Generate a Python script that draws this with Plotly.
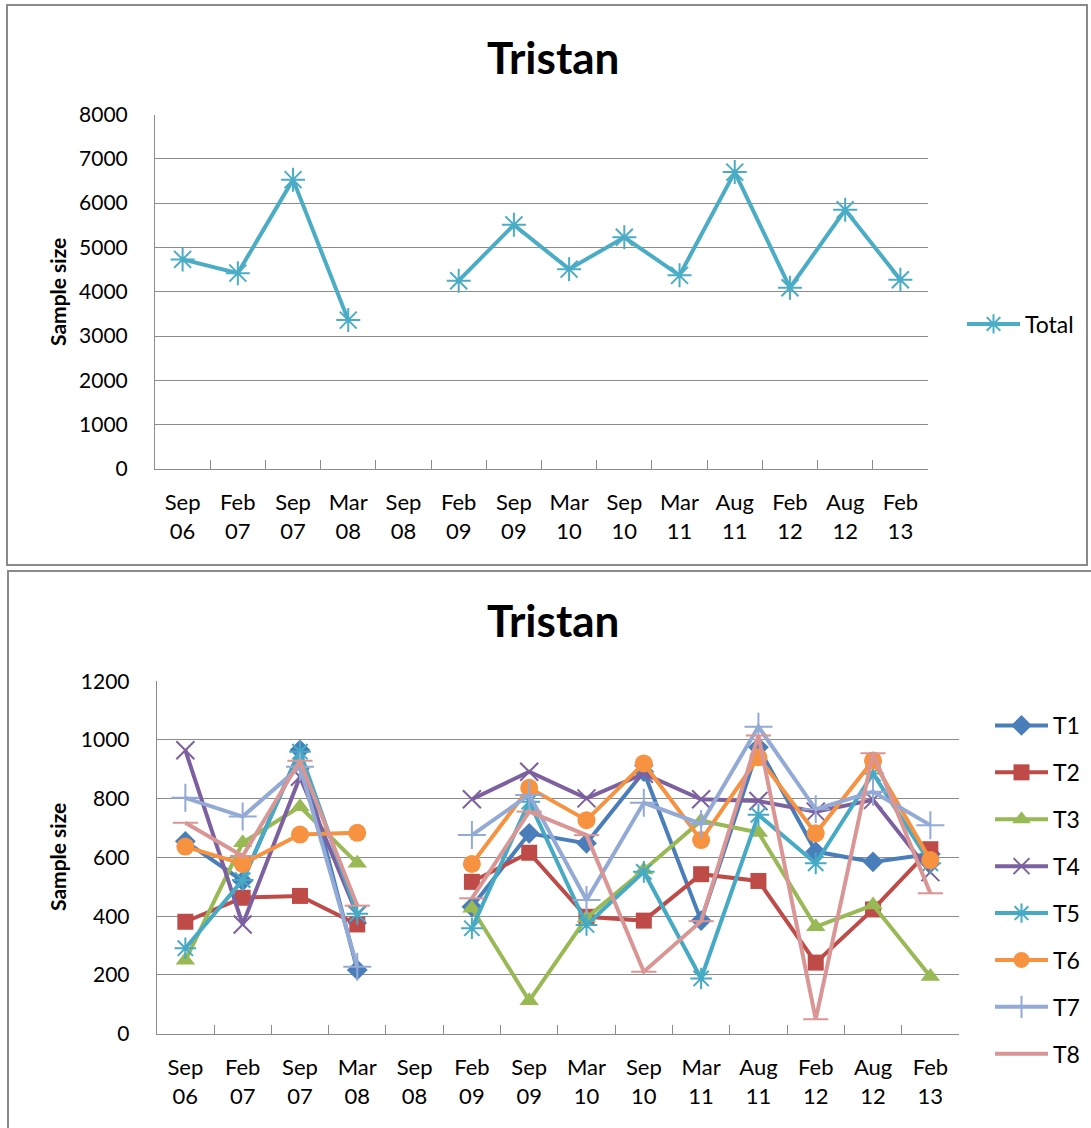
import plotly.graph_objects as go

# Sampling occasions (x categories)
categories = ["Sep 06", "Feb 07", "Sep 07", "Mar 08", "Sep 08", "Feb 09", "Sep 09",
              "Mar 10", "Sep 10", "Mar 11", "Aug 11", "Feb 12", "Aug 12", "Feb 13"]
tick_labels = [c.replace(" ", "<br>") for c in categories]

# Total sample size per occasion (no sampling in Sep 08)
total = [4730, 4420, 6530, 3360, None, 4250, 5510, 4510, 5230, 4370, 6700, 4090, 5850, 4270]

# Sample size per site T1..T8
t1 = [655, 520, 966, 217, None, 432, 682, 648, 892, 385, 975, 620, 585, 612]
t2 = [381, 463, 469, 372, None, 517, 616, 398, 385, 543, 520, 242, 423, 628]
t3 = [250, 650, 773, 580, None, 427, 112, 394, 557, 725, 685, 364, 438, 195]
t4 = [965, 372, 875, 405, None, 798, 892, 801, 885, 798, 792, 756, 796, 550]
t5 = [291, 523, 960, 408, None, 359, 790, 370, 551, 188, 745, 580, 886, 580]
t6 = [637, 578, 678, 684, None, 578, 837, 727, 920, 659, 941, 682, 930, 591]
t7 = [803, 739, 909, 228, None, 676, 813, 455, 786, 714, 1045, 764, 824, 710]
t8 = [718, 605, 929, 436, None, 461, 756, 676, 211, 383, 1015, 49, 955, 478]

site_names = ["T1", "T2", "T3", "T4", "T5", "T6", "T7", "T8"]
site_values = [t1, t2, t3, t4, t5, t6, t7, t8]
site_colors = ["#4A7EBB", "#BE4B48", "#98B954", "#7D60A0",
               "#46AAC5", "#F69240", "#93AAD6", "#DA9694"]
site_symbols = ["diamond", "square", "triangle-up", "x-thin-open",
                "asterisk-open", "circle", "cross-thin-open", "line-ew-open"]
site_sizes = [16, 16, 17, 18, 18, 18, 20, 18]

W, H = 1091, 1128
FONT = "Lato, 'Open Sans', sans-serif"
GRID = "#8C8C8C"


def px_x(v):
    return v / W


def px_y(v):
    return 1 - v / H


fig = go.Figure()

fig.add_trace(go.Scatter(
    x=categories, y=total, name="Total", mode="lines+markers",
    connectgaps=False, xaxis="x", yaxis="y", legend="legend",
    line=dict(color="#4BACC6", width=4),
    marker=dict(symbol="asterisk-open", size=20, color="#4BACC6",
                line=dict(color="#4BACC6", width=2)),
))

for name, vals, col, sym, sz in zip(site_names, site_values, site_colors,
                                    site_symbols, site_sizes):
    open_sym = sym.endswith("-open")
    fig.add_trace(go.Scatter(
        x=categories, y=vals, name=name, mode="lines+markers",
        connectgaps=False, xaxis="x2", yaxis="y2", legend="legend2",
        legendgroup=name,
        line=dict(color=col, width=4),
        marker=dict(symbol=sym, size=sz, color=col,
                    line=dict(color=col, width=2 if open_sym else 0)),
    ))

xfont = dict(family=FONT, size=22, color="#000000")
yfont = dict(family=FONT, size=21, color="#000000")
legfont = dict(family=FONT, size=23, color="#000000")

xcommon = dict(
    type="category", range=[-0.5, 13.5], tickmode="array",
    tickvals=categories, ticktext=tick_labels, tickson="boundaries",
    ticks="inside", ticklen=9, tickcolor=GRID, tickwidth=1,
    showline=True, linecolor=GRID, linewidth=1, showgrid=False,
    tickfont=xfont, ticklabelstandoff=14, zeroline=False, automargin=False,
)
ycommon = dict(
    showgrid=True, gridcolor=GRID, gridwidth=1, showline=True,
    linecolor=GRID, linewidth=1, ticks="", tickfont=yfont,
    zeroline=False, ticklabelstandoff=22, automargin=False,
)

fig.update_layout(
    width=W, height=H, margin=dict(l=0, r=0, t=0, b=0, autoexpand=False),
    paper_bgcolor="white", plot_bgcolor="white",
    showlegend=True,
    xaxis=dict(domain=[px_x(155), px_x(928)], anchor="y", **xcommon),
    yaxis=dict(domain=[px_y(469), px_y(114.5)], anchor="x",
               range=[0, 8000], dtick=1000, **ycommon),
    xaxis2=dict(domain=[px_x(156.7), px_x(959)], anchor="y2", **xcommon),
    yaxis2=dict(domain=[px_y(1033.7), px_y(681.2)], anchor="x2",
                range=[0, 1200], dtick=200, **ycommon),
    legend=dict(x=px_x(962), y=px_y(324), xanchor="left", yanchor="middle",
                font=legfont, itemwidth=53, bgcolor="rgba(0,0,0,0)"),
    legend2=dict(x=px_x(990), y=px_y(704), xanchor="left", yanchor="top",
                 font=legfont, itemwidth=53, tracegroupgap=14,
                 traceorder="grouped", bgcolor="rgba(0,0,0,0)"),
)

# Chart titles
for yc in (57, 620):
    fig.add_annotation(text="<b>Tristan</b>", x=px_x(553), y=px_y(yc),
                       xref="paper", yref="paper", showarrow=False,
                       xanchor="center", yanchor="middle",
                       font=dict(family=FONT, size=44, color="#000000"))

# Y axis titles
for yc in (292, 857):
    fig.add_annotation(text="<b>Sample size</b>", x=px_x(57), y=px_y(yc),
                       xref="paper", yref="paper", showarrow=False,
                       textangle=-90, xanchor="center", yanchor="middle",
                       font=dict(family=FONT, size=21, color="#000000"))

# Chart area frames
fig.add_shape(type="rect", xref="paper", yref="paper",
              x0=px_x(7), x1=px_x(1087), y0=px_y(565), y1=px_y(5),
              line=dict(color="#8A8A8A", width=2))
fig.add_shape(type="rect", xref="paper", yref="paper",
              x0=px_x(8), x1=px_x(1100), y0=px_y(1140), y1=px_y(571),
              line=dict(color="#8A8A8A", width=2))

fig.write_html("out.html")
